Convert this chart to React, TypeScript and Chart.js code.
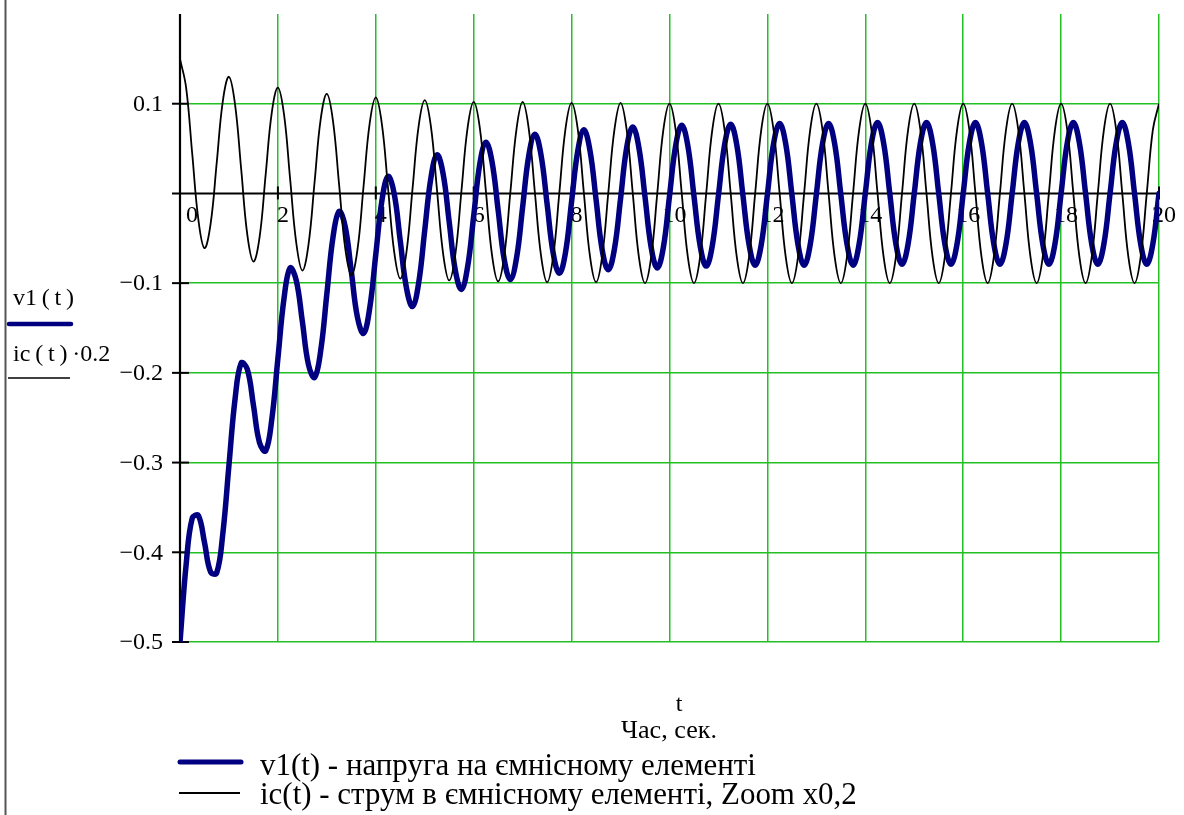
import React, { useEffect, useRef } from 'react';
import { Chart, registerables } from 'chart.js';

Chart.register(...registerables);

// sampling step of the time axis (s)
const T_STEP = 0.125;

// v1(t) – voltage on the capacitive element, read every 1/8 s (one row = 1 s)
const V1 = [
  -0.500, -0.414, -0.362, -0.359, -0.389, -0.422, -0.423, -0.379,
  -0.303, -0.229, -0.189, -0.196, -0.236, -0.278, -0.287, -0.252,
  -0.184, -0.117, -0.083, -0.097, -0.143, -0.191, -0.205, -0.175,
  -0.112, -0.049, -0.020, -0.037, -0.087, -0.138, -0.156, -0.128,
  -0.068, -0.008, 0.019, 0.000, -0.053, -0.105, -0.126, -0.100,
  -0.041, 0.017, 0.043, 0.022, -0.032, -0.086, -0.107, -0.082,
  -0.025, 0.033, 0.057, 0.035, -0.019, -0.074, -0.096, -0.072,
  -0.015, 0.042, 0.066, 0.043, -0.012, -0.067, -0.089, -0.066,
  -0.009, 0.047, 0.071, 0.048, -0.007, -0.063, -0.085, -0.062,
  -0.006, 0.051, 0.074, 0.051, -0.004, -0.060, -0.083, -0.060,
  -0.003, 0.053, 0.076, 0.053, -0.003, -0.058, -0.081, -0.058,
  -0.002, 0.054, 0.077, 0.054, -0.002, -0.057, -0.080, -0.057,
  -0.001, 0.055, 0.078, 0.055, -0.001, -0.057, -0.080, -0.057,
  -0.001, 0.055, 0.078, 0.055, -0.001, -0.056, -0.080, -0.056,
  0.000, 0.056, 0.079, 0.056, 0.000, -0.056, -0.079, -0.056,
  0.000, 0.056, 0.079, 0.056, 0.000, -0.056, -0.079, -0.056,
  0.000, 0.056, 0.079, 0.056, 0.000, -0.056, -0.079, -0.056,
  0.000, 0.056, 0.079, 0.056, 0.000, -0.056, -0.079, -0.056,
  0.000, 0.056, 0.079, 0.056, 0.000, -0.056, -0.079, -0.056,
  0.000, 0.056, 0.079, 0.056, 0.000, -0.056, -0.079, -0.056,
  0.000,
];

// ic(t)·0.2 – current in the capacitive element (zoom x0.2), read every 1/8 s
const IC02 = [
  0.150, 0.118, 0.044, -0.029, -0.061, -0.034, 0.034, 0.103,
  0.130, 0.099, 0.027, -0.046, -0.076, -0.049, 0.021, 0.090,
  0.118, 0.088, 0.016, -0.055, -0.086, -0.057, 0.013, 0.083,
  0.111, 0.081, 0.010, -0.061, -0.091, -0.063, 0.008, 0.078,
  0.107, 0.077, 0.006, -0.065, -0.095, -0.066, 0.005, 0.075,
  0.104, 0.075, 0.004, -0.067, -0.097, -0.068, 0.003, 0.073,
  0.102, 0.073, 0.002, -0.069, -0.098, -0.069, 0.002, 0.072,
  0.102, 0.072, 0.001, -0.069, -0.099, -0.070, 0.001, 0.072,
  0.101, 0.072, 0.001, -0.070, -0.099, -0.070, 0.001, 0.071,
  0.101, 0.071, 0.000, -0.071, -0.100, -0.071, 0.000, 0.071,
  0.100, 0.071, 0.000, -0.071, -0.100, -0.071, 0.000, 0.071,
  0.100, 0.071, 0.000, -0.071, -0.100, -0.071, 0.000, 0.071,
  0.100, 0.071, 0.000, -0.071, -0.100, -0.071, 0.000, 0.071,
  0.100, 0.071, 0.000, -0.071, -0.100, -0.071, 0.000, 0.071,
  0.100, 0.071, 0.000, -0.071, -0.100, -0.071, 0.000, 0.071,
  0.100, 0.071, 0.000, -0.071, -0.100, -0.071, 0.000, 0.071,
  0.100, 0.071, 0.000, -0.071, -0.100, -0.071, 0.000, 0.071,
  0.100, 0.071, 0.000, -0.071, -0.100, -0.071, 0.000, 0.071,
  0.100, 0.071, 0.000, -0.071, -0.100, -0.071, 0.000, 0.071,
  0.100, 0.071, 0.000, -0.071, -0.100, -0.071, 0.000, 0.071,
  0.100,
];

const X_TICKS = [0, 2, 4, 6, 8, 10, 12, 14, 16, 18, 20];
const X_TICK_LABELS = ['0', '2', '4', '6', '8', '10', '12', '14', '16', '18', '20'];
const Y_TICKS = [0.1, -0.1, -0.2, -0.3, -0.4, -0.5];
const Y_TICK_LABELS = ['0.1', '\u22120.1', '\u22120.2', '\u22120.3', '\u22120.4', '\u22120.5'];

const AXIS_LABEL_LEFT = ['v1\u2009(\u2009t\u2009)', 'ic\u2009(\u2009t\u2009)\u2009\u00B70.2'];
const X_AXIS_VAR = 't';
const X_AXIS_TITLE = 'Час, сек.';
const LEGEND_TEXTS = [
  'v1(t) - напруга на ємнісному елементі',
  'ic(t) - струм в ємнісному елементі, Zoom x0,2',
];

const FONT = "'Liberation Serif', 'Times New Roman', serif";
const GREEN = 'rgb(34,192,34)';
const NAVY = '#000080';

function fitSize(ctx: CanvasRenderingContext2D, text: string, targetW: number, base: number) {
  ctx.font = `${base}px ${FONT}`;
  const w = ctx.measureText(text).width;
  return w > 0 ? (base * targetW) / w : base;
}

const overlay = {
  id: 'mathcadOverlay',
  beforeDatasetsDraw(chart: any) {
    const { ctx, scales } = chart;
    const xs = scales.x;
    const ys = scales.y;
    const x0 = xs.getPixelForValue(0);
    const x20 = xs.getPixelForValue(20);
    const y0 = ys.getPixelForValue(0);
    const yTop = ys.getPixelForValue(0.2);
    const yBot = ys.getPixelForValue(-0.5);
    ctx.save();
    ctx.strokeStyle = '#000';
    // y axis
    ctx.lineWidth = 2.2;
    ctx.beginPath();
    ctx.moveTo(x0, yTop);
    ctx.lineTo(x0, yBot);
    ctx.stroke();
    // x axis (at value 0)
    ctx.lineWidth = 2;
    ctx.beginPath();
    ctx.moveTo(x0 - 8, y0);
    ctx.lineTo(x20 + 1, y0);
    ctx.stroke();
    // y tick marks crossing the axis
    Y_TICKS.forEach((v) => {
      const y = ys.getPixelForValue(v);
      ctx.beginPath();
      ctx.moveTo(x0 - 8, y);
      ctx.lineTo(x0 + 9, y);
      ctx.stroke();
    });
    // x tick marks crossing the axis
    X_TICKS.forEach((v) => {
      if (v === 0) return;
      const x = xs.getPixelForValue(v);
      ctx.beginPath();
      ctx.moveTo(x, y0 - 7);
      ctx.lineTo(x, y0 + 6);
      ctx.stroke();
    });
    // x tick labels (under the curves)
    ctx.fillStyle = '#000';
    ctx.font = `24px ${FONT}`;
    ctx.textAlign = 'center';
    ctx.textBaseline = 'middle';
    X_TICKS.forEach((v, i) => {
      const x = xs.getPixelForValue(v) + (v === 0 ? 12 : 5);
      ctx.fillText(X_TICK_LABELS[i], x, y0 + 22);
    });
    ctx.restore();
  },
  afterDraw(chart: any) {
    const { ctx, scales } = chart;
    const xs = scales.x;
    const ys = scales.y;
    const x0 = xs.getPixelForValue(0);
    ctx.save();
    ctx.fillStyle = '#000';
    // y tick labels
    ctx.font = `24px ${FONT}`;
    ctx.textAlign = 'right';
    ctx.textBaseline = 'middle';
    Y_TICKS.forEach((v, i) => {
      ctx.fillText(Y_TICK_LABELS[i], x0 - 17, ys.getPixelForValue(v) + 1);
    });

    // left border of the region
    ctx.strokeStyle = '#555';
    ctx.lineWidth = 2;
    ctx.beginPath();
    ctx.moveTo(5.5, 0);
    ctx.lineTo(5.5, 815);
    ctx.stroke();

    // left axis labels with line samples
    ctx.textAlign = 'left';
    ctx.font = `24px ${FONT}`;
    ctx.fillText(AXIS_LABEL_LEFT[0], 13, 299);
    ctx.strokeStyle = NAVY;
    ctx.lineWidth = 4.5;
    ctx.lineCap = 'round';
    ctx.beginPath();
    ctx.moveTo(9, 324);
    ctx.lineTo(71, 324);
    ctx.stroke();
    ctx.fillText(AXIS_LABEL_LEFT[1], 13, 355);
    ctx.strokeStyle = '#000';
    ctx.lineWidth = 1.6;
    ctx.lineCap = 'butt';
    ctx.beginPath();
    ctx.moveTo(8, 378);
    ctx.lineTo(70, 378);
    ctx.stroke();

    // x axis variable and title
    ctx.textAlign = 'center';
    ctx.font = `24px ${FONT}`;
    ctx.fillText(X_AXIS_VAR, 679, 705);
    const s1 = fitSize(ctx, X_AXIS_TITLE, 96, 22);
    ctx.font = `${s1}px ${FONT}`;
    ctx.fillText(X_AXIS_TITLE, 669, 731);

    // bottom legend
    ctx.textAlign = 'left';
    ctx.strokeStyle = NAVY;
    ctx.lineWidth = 5;
    ctx.lineCap = 'round';
    ctx.beginPath();
    ctx.moveTo(180, 762);
    ctx.lineTo(241, 762);
    ctx.stroke();
    const s2 = fitSize(ctx, LEGEND_TEXTS[0], 496, 24);
    ctx.font = `${s2}px ${FONT}`;
    ctx.fillText(LEGEND_TEXTS[0], 260, 767);

    ctx.strokeStyle = '#000';
    ctx.lineWidth = 1.8;
    ctx.lineCap = 'butt';
    ctx.beginPath();
    ctx.moveTo(179, 793);
    ctx.lineTo(240, 793);
    ctx.stroke();
    const s3 = fitSize(ctx, LEGEND_TEXTS[1], 597, 24);
    ctx.font = `${s3}px ${FONT}`;
    ctx.fillText(LEGEND_TEXTS[1], 260, 796);
    ctx.restore();
  },
};

export default function App() {
  const ref = useRef<HTMLCanvasElement | null>(null);

  useEffect(() => {
    if (!ref.current) return;
    const chart = new Chart(ref.current, {
      type: 'line',
      data: {
        datasets: [
          {
            label: LEGEND_TEXTS[1],
            data: IC02.map((y, i) => ({ x: i * T_STEP, y })),
            borderColor: '#000',
            borderWidth: 1.8,
            pointRadius: 0,
            tension: 0.4,
            order: 0,
          },
          {
            label: LEGEND_TEXTS[0],
            data: V1.map((y, i) => ({ x: i * T_STEP, y })),
            borderColor: NAVY,
            borderWidth: 5.5,
            pointRadius: 0,
            tension: 0.4,
            borderCapStyle: 'round',
            borderJoinStyle: 'round',
            order: 1,
          },
        ],
      } as any,
      options: {
        responsive: false,
        animation: false,
        events: [],
        layout: { padding: { left: 180, top: 14, right: 25, bottom: 173 } },
        plugins: { legend: { display: false }, tooltip: { enabled: false } },
        scales: {
          x: {
            type: 'linear',
            min: 0,
            max: 20,
            ticks: { display: false, stepSize: 2 },
            grid: { drawTicks: false, color: GREEN, lineWidth: 1.5 },
            border: { display: false },
          },
          y: {
            type: 'linear',
            min: -0.5,
            max: 0.2,
            ticks: { display: false, stepSize: 0.1 },
            grid: {
              drawTicks: false,
              lineWidth: 1.5,
              color: (c: any) =>
                Math.abs(c.tick.value) < 1e-6 || c.tick.value > 0.19 ? 'rgba(0,0,0,0)' : GREEN,
            },
            border: { display: false },
          },
        },
      } as any,
      plugins: [overlay],
    });
    return () => chart.destroy();
  }, []);

  return (
    <div style={{ position: 'fixed', left: 0, top: 0, width: 1184, height: 815, background: '#fff' }}>
      <canvas ref={ref} width={1184} height={815} style={{ display: 'block' }} />
    </div>
  );
}
